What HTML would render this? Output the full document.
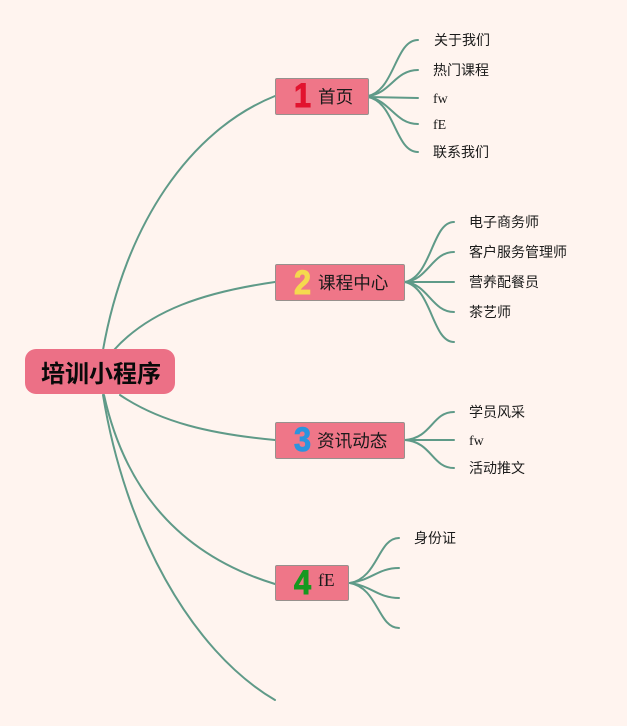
<!DOCTYPE html>
<html>
<head>
<meta charset="utf-8">
<style>
html,body{margin:0;padding:0;background:#fff4ef;}
#c{position:relative;width:627px;height:726px;overflow:hidden;background:#fff4ef;font-family:"Liberation Serif","Noto Sans CJK SC",sans-serif;color:#1a1a1a;}
svg{position:absolute;left:0;top:0;}
.n{position:absolute;box-sizing:border-box;background:#ef7688;border:1px solid #97908d;border-radius:2px;height:37px;left:275px;}
.t{position:absolute;white-space:nowrap;line-height:20px;font-size:14px;font-family:"Liberation Serif","Noto Sans CJK SC",sans-serif;}
.m{position:absolute;white-space:nowrap;line-height:24px;font-size:17.6px;font-family:"Liberation Serif","Noto Sans CJK SC",sans-serif;}
.d{position:absolute;white-space:nowrap;line-height:30px;font-size:34px;font-weight:bold;font-family:"Liberation Sans",sans-serif;-webkit-text-stroke:1px currentColor;transform:scaleX(.9);transform-origin:left center;}
</style>
</head>
<body>
<div id="c">
<svg width="627" height="726" fill="none" stroke="#5f9a88" stroke-width="2" stroke-linecap="round">
<path d="M103 350C125 225 190 130 275 96"/>
<path d="M114 350C150 310 205 292 275 282"/>
<path d="M120 395C160 422 210 434 275 440"/>
<path d="M104 395C125 490 180 555 275 584"/>
<path d="M103 395C125 530 190 650 275 700"/>
<g stroke-width="2">
<path d="M368 96C395 90 395 40 418 40"/>
<path d="M368 96C390 94 395 70 418 70"/>
<path d="M368 97L418 98"/>
<path d="M368 97C390 100 395 124 418 124"/>
<path d="M368 97C395 102 395 152 418 152"/>
<path d="M405 282C432 276 432 222 454 222"/>
<path d="M405 282C428 280 432 252 454 252"/>
<path d="M405 282L454 282"/>
<path d="M405 282C428 284 432 312 454 312"/>
<path d="M405 282C432 288 432 342 454 342"/>
<path d="M405 440C432 438 432 412 454 412"/>
<path d="M405 440L454 440"/>
<path d="M405 440C432 442 432 468 454 468"/>
<path d="M350 583C378 578 378 538 399 538"/>
<path d="M350 583C372 580 378 568 399 568"/>
<path d="M350 583C372 586 378 598 399 598"/>
<path d="M350 583C378 588 378 628 399 628"/>
</g>
</svg>

<div style="position:absolute;left:25px;top:349px;width:150px;height:45px;background:#ec7086;border-radius:11px;"></div>
<div style="position:absolute;left:41px;top:360px;font-size:24px;line-height:30px;font-weight:bold;color:#0a0a0a;white-space:nowrap;font-family:'Liberation Sans','Noto Sans CJK SC',sans-serif;">培训小程序</div>

<div class="n" style="top:78px;width:94px;"></div>
<div class="d" style="left:294px;top:81px;color:#e2132f;">1</div>
<div class="m" style="left:318px;top:85px;">首页</div>

<div class="n" style="top:264px;width:130px;"></div>
<div class="d" style="left:294px;top:268px;color:#f5d94e;">2</div>
<div class="m" style="left:318px;top:271px;">课程中心</div>

<div class="n" style="top:422px;width:130px;"></div>
<div class="d" style="left:294px;top:425px;color:#2b94de;">3</div>
<div class="m" style="left:317px;top:429px;">资讯动态</div>

<div class="n" style="top:565px;width:74px;height:36px;"></div>
<div class="d" style="left:294px;top:568px;color:#16991f;">4</div>
<div class="m" style="left:318px;top:568px;">fE</div>

<div class="t" style="left:434px;top:32px;">关于我们</div>
<div class="t" style="left:433px;top:62px;">热门课程</div>
<div class="t" style="left:433px;top:90px;">fw</div>
<div class="t" style="left:433px;top:116px;">fE</div>
<div class="t" style="left:433px;top:144px;">联系我们</div>

<div class="t" style="left:469px;top:214px;">电子商务师</div>
<div class="t" style="left:469px;top:244px;">客户服务管理师</div>
<div class="t" style="left:469px;top:274px;">营养配餐员</div>
<div class="t" style="left:469px;top:304px;">茶艺师</div>

<div class="t" style="left:469px;top:404px;">学员风采</div>
<div class="t" style="left:469px;top:432px;">fw</div>
<div class="t" style="left:469px;top:460px;">活动推文</div>

<div class="t" style="left:414px;top:530px;">身份证</div>
</div>
</body>
</html>
